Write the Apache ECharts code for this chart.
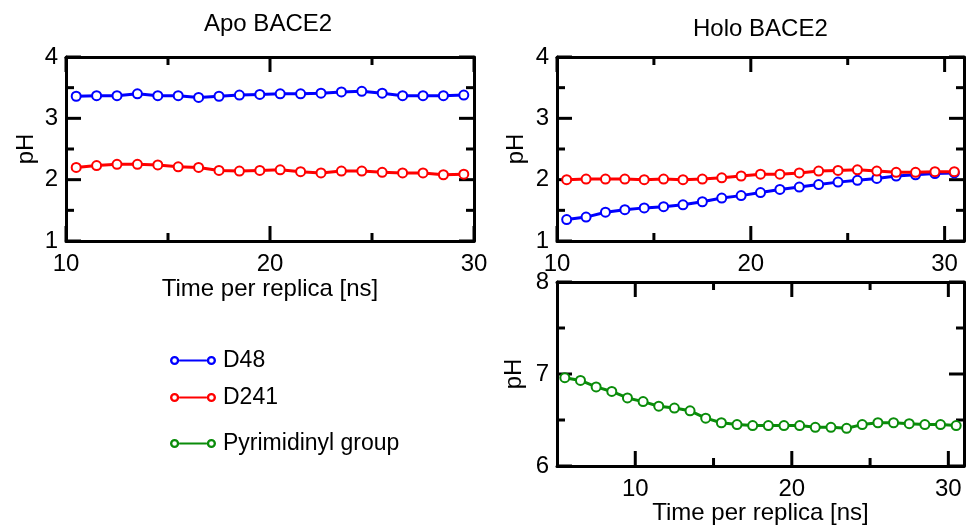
<!DOCTYPE html>
<html>
<head>
<meta charset="utf-8">
<script src="https://cdn.jsdelivr.net/npm/echarts@6/dist/echarts.min.js"></script>
<style>
  html, body { margin: 0; padding: 0; background: #fff; }
  #main { width: 966px; height: 527px; }
</style>
</head>
<body>
<div id="main"></div>
<script>
// ---- data ----
var apoTime = [10.5, 11.5, 12.5, 13.5, 14.5, 15.5, 16.5, 17.5, 18.5, 19.5, 20.5, 21.5, 22.5, 23.5, 24.5, 25.5, 26.5, 27.5, 28.5, 29.5];
var apoD48  = [3.36, 3.37, 3.37, 3.40, 3.37, 3.37, 3.34, 3.36, 3.38, 3.39, 3.40, 3.40, 3.41, 3.43, 3.44, 3.41, 3.37, 3.37, 3.37, 3.38];
var apoD241 = [2.20, 2.23, 2.25, 2.25, 2.24, 2.21, 2.20, 2.15, 2.14, 2.15, 2.16, 2.13, 2.11, 2.14, 2.14, 2.12, 2.11, 2.11, 2.08, 2.09];

var holoTime = [10.5, 11.5, 12.5, 13.5, 14.5, 15.5, 16.5, 17.5, 18.5, 19.5, 20.5, 21.5, 22.5, 23.5, 24.5, 25.5, 26.5, 27.5, 28.5, 29.5, 30.5];
var holoD48  = [1.35, 1.39, 1.47, 1.51, 1.54, 1.56, 1.59, 1.64, 1.70, 1.74, 1.79, 1.84, 1.88, 1.92, 1.96, 1.99, 2.02, 2.06, 2.08, 2.10, 2.11];
var holoD241 = [2.00, 2.01, 2.01, 2.01, 2.00, 2.01, 2.00, 2.01, 2.03, 2.06, 2.09, 2.09, 2.11, 2.14, 2.15, 2.16, 2.14, 2.12, 2.12, 2.13, 2.13];

var pyrTime  = [5.5, 6.5, 7.5, 8.5, 9.5, 10.5, 11.5, 12.5, 13.5, 14.5, 15.5, 16.5, 17.5, 18.5, 19.5, 20.5, 21.5, 22.5, 23.5, 24.5, 25.5, 26.5, 27.5, 28.5, 29.5, 30.5];
var pyrGroup = [6.96, 6.93, 6.86, 6.81, 6.74, 6.70, 6.65, 6.63, 6.60, 6.52, 6.47, 6.45, 6.44, 6.44, 6.44, 6.44, 6.42, 6.42, 6.41, 6.45, 6.47, 6.47, 6.46, 6.45, 6.45, 6.44];

// ticks
var xMajorTicks = [10, 20, 30];
var xMinorTicks = [15, 25];
var yMajorTop = [1, 2, 3, 4];
var yMinorTop = [1.5, 2.5, 3.5];
var yMajorPyr = [6, 7, 8];
var yMinorPyr = [6.5, 7.5];
var xLabelRange = [10, 30];

var FONT = '"Liberation Sans", Arial, Helvetica, sans-serif';
var BLUE = '#0000ff', RED = '#ff0000', GREEN = '#0a8c0a';
var MAJOR_LEN = 15, MINOR_LEN = 8;

var grids = [], xAxes = [], yAxes = [], tickSeries = [];

function txt(size) {
  return { color: '#000', fontSize: size || 24, fontFamily: FONT };
}
function line() { return { color: '#000', width: 3 }; }

// draws inward ticks on all four sides of a panel, placed through the panel's axes
function tickRenderer(xr, yr) {
  return function (params, api) {
    var v = api.value(0), kind = api.value(1);
    var len = (kind === 0 || kind === 2) ? MAJOR_LEN : MINOR_LEN;
    var a, b, s1, s2;
    if (kind < 2) {
      a = api.coord([v, yr[0]]); b = api.coord([v, yr[1]]);
      s1 = { x1: a[0], y1: a[1], x2: a[0], y2: a[1] - len };
      s2 = { x1: b[0], y1: b[1], x2: b[0], y2: b[1] + len };
    } else {
      a = api.coord([xr[0], v]); b = api.coord([xr[1], v]);
      s1 = { x1: a[0], y1: a[1], x2: a[0] + len, y2: a[1] };
      s2 = { x1: b[0], y1: b[1], x2: b[0] - len, y2: b[1] };
    }
    var st = { stroke: '#000', lineWidth: 3 };
    return { type: 'group', children: [
      { type: 'line', shape: s1, style: st },
      { type: 'line', shape: s2, style: st }
    ] };
  };
}

function addPanel(rect, xr, yr, yMaj, yMin, xName, xGap, yGap) {
  var xppu = rect.width / (xr[1] - xr[0]);
  var g = grids.length;
  grids.push(Object.assign({}, rect));                                   // frame + data
  grids.push({ left: rect.left + (xLabelRange[0] - xr[0]) * xppu,        // x tick labels
               width: (xLabelRange[1] - xLabelRange[0]) * xppu,
               top: rect.top, height: rect.height });

  var xi = xAxes.length, yi = yAxes.length;
  ['bottom', 'top'].forEach(function (pos, k) {
    xAxes.push({
      type: 'value', gridIndex: g, position: pos, min: xr[0], max: xr[1],
      axisLine: { show: true, onZero: false, lineStyle: line() },
      axisTick: { show: false }, minorTick: { show: false },
      axisLabel: { show: false }, splitLine: { show: false },
      name: k === 0 ? xName : '', nameLocation: 'middle', nameGap: xGap, nameTextStyle: txt()
    });
  });
  ['left', 'right'].forEach(function (pos, k) {
    yAxes.push({
      type: 'value', gridIndex: g, position: pos,
      min: yr[0], max: yr[1], interval: 1,
      axisLine: { show: true, onZero: false, lineStyle: line() },
      axisTick: { show: false }, minorTick: { show: false },
      axisLabel: k === 0 ? Object.assign({ show: true, margin: 8 }, txt()) : { show: false },
      splitLine: { show: false },
      name: k === 0 ? 'pH' : '', nameLocation: 'middle', nameGap: yGap, nameTextStyle: txt()
    });
  });
  xAxes.push({
    type: 'value', gridIndex: g + 1, position: 'bottom',
    min: xLabelRange[0], max: xLabelRange[1], interval: 10,
    axisLine: { show: false }, axisTick: { show: false }, minorTick: { show: false },
    axisLabel: Object.assign({ show: true, margin: 11 }, txt()),
    splitLine: { show: false }
  });
  yAxes.push({ type: 'value', gridIndex: g + 1, show: false, min: 0, max: 1 });

  var tickData = []
    .concat(xMajorTicks.map(function (v) { return [v, 0]; }))
    .concat(xMinorTicks.map(function (v) { return [v, 1]; }))
    .concat(yMaj.map(function (v) { return [v, 2]; }))
    .concat(yMin.map(function (v) { return [v, 3]; }));
  tickSeries.push({
    type: 'custom', xAxisIndex: xi, yAxisIndex: yi,
    renderItem: tickRenderer(xr, yr), data: tickData,
    silent: true, z: 3, clip: false
  });
  return { x: xi, y: yi };
}

var apo  = addPanel({ left: 66,  top: 57,  width: 408, height: 184 }, [10, 30], [1, 4], yMajorTop, yMinorTop, 'Time per replica [ns]', 36, 28);
var holo = addPanel({ left: 557, top: 57,  width: 407, height: 184 }, [10, 31], [1, 4], yMajorTop, yMinorTop, '', 0, 29);
var pyr  = addPanel({ left: 557, top: 282, width: 407, height: 184 }, [5, 31],  [6, 8], yMajorPyr, yMinorPyr, 'Time per replica [ns]', 35, 31);

function pairs(xs, ys) {
  return xs.map(function (x, i) { return [x, ys[i]]; });
}

function lineSeries(name, panel, xs, ys, color) {
  return {
    type: 'line', name: name,
    xAxisIndex: panel.x, yAxisIndex: panel.y,
    data: pairs(xs, ys),
    symbol: 'emptyCircle', symbolSize: 9, showAllSymbol: true,
    lineStyle: { color: color, width: 3 },
    itemStyle: { color: color, borderColor: color, borderWidth: 2.5 },
    emphasis: { disabled: true },
    clip: false, z: 5
  };
}

// legend glyph: ring - line - ring
var ICON = 'path://M0.5,5 A4.5,4.5 0 1,1 9.5,5 A4.5,4.5 0 1,1 0.5,5 Z M2.8,5 A2.2,2.2 0 1,0 7.2,5 A2.2,2.2 0 1,0 2.8,5 Z ' +
           'M9.5,3.9 L36.5,3.9 L36.5,6.1 L9.5,6.1 Z ' +
           'M36.5,5 A4.5,4.5 0 1,1 45.5,5 A4.5,4.5 0 1,1 36.5,5 Z M38.8,5 A2.2,2.2 0 1,0 43.2,5 A2.2,2.2 0 1,0 38.8,5 Z';

function legendAt(top, name, color) {
  return {
    left: 165, top: top, orient: 'vertical',
    icon: ICON, itemWidth: 46, itemHeight: 10, itemGap: 0, selectedMode: false,
    textStyle: Object.assign({ padding: [0, 0, 0, 2] }, txt(23)),
    data: [{ name: name, itemStyle: { color: color, borderWidth: 0 } }]
  };
}

var chart = echarts.init(document.getElementById('main'), null, { renderer: 'canvas' });

chart.setOption({
  animation: false,
  backgroundColor: '#fff',
  title: [
    { text: 'Apo BACE2', left: 204, top: 12, padding: 0,
      textStyle: Object.assign({ fontWeight: 'normal' }, txt()) },
    { text: 'Holo BACE2', left: 693, top: 17, padding: 0,
      textStyle: Object.assign({ fontWeight: 'normal' }, txt()) }
  ],
  legend: [
    legendAt(344, 'D48', BLUE),
    legendAt(381, 'D241', RED),
    legendAt(427, 'Pyrimidinyl group', GREEN)
  ],
  grid: grids,
  xAxis: xAxes,
  yAxis: yAxes,
  series: tickSeries.concat([
    lineSeries('D48', apo, apoTime, apoD48, BLUE),
    lineSeries('D241', apo, apoTime, apoD241, RED),
    lineSeries('D48', holo, holoTime, holoD48, BLUE),
    lineSeries('D241', holo, holoTime, holoD241, RED),
    lineSeries('Pyrimidinyl group', pyr, pyrTime, pyrGroup, GREEN)
  ])
});
</script>
</body>
</html>
